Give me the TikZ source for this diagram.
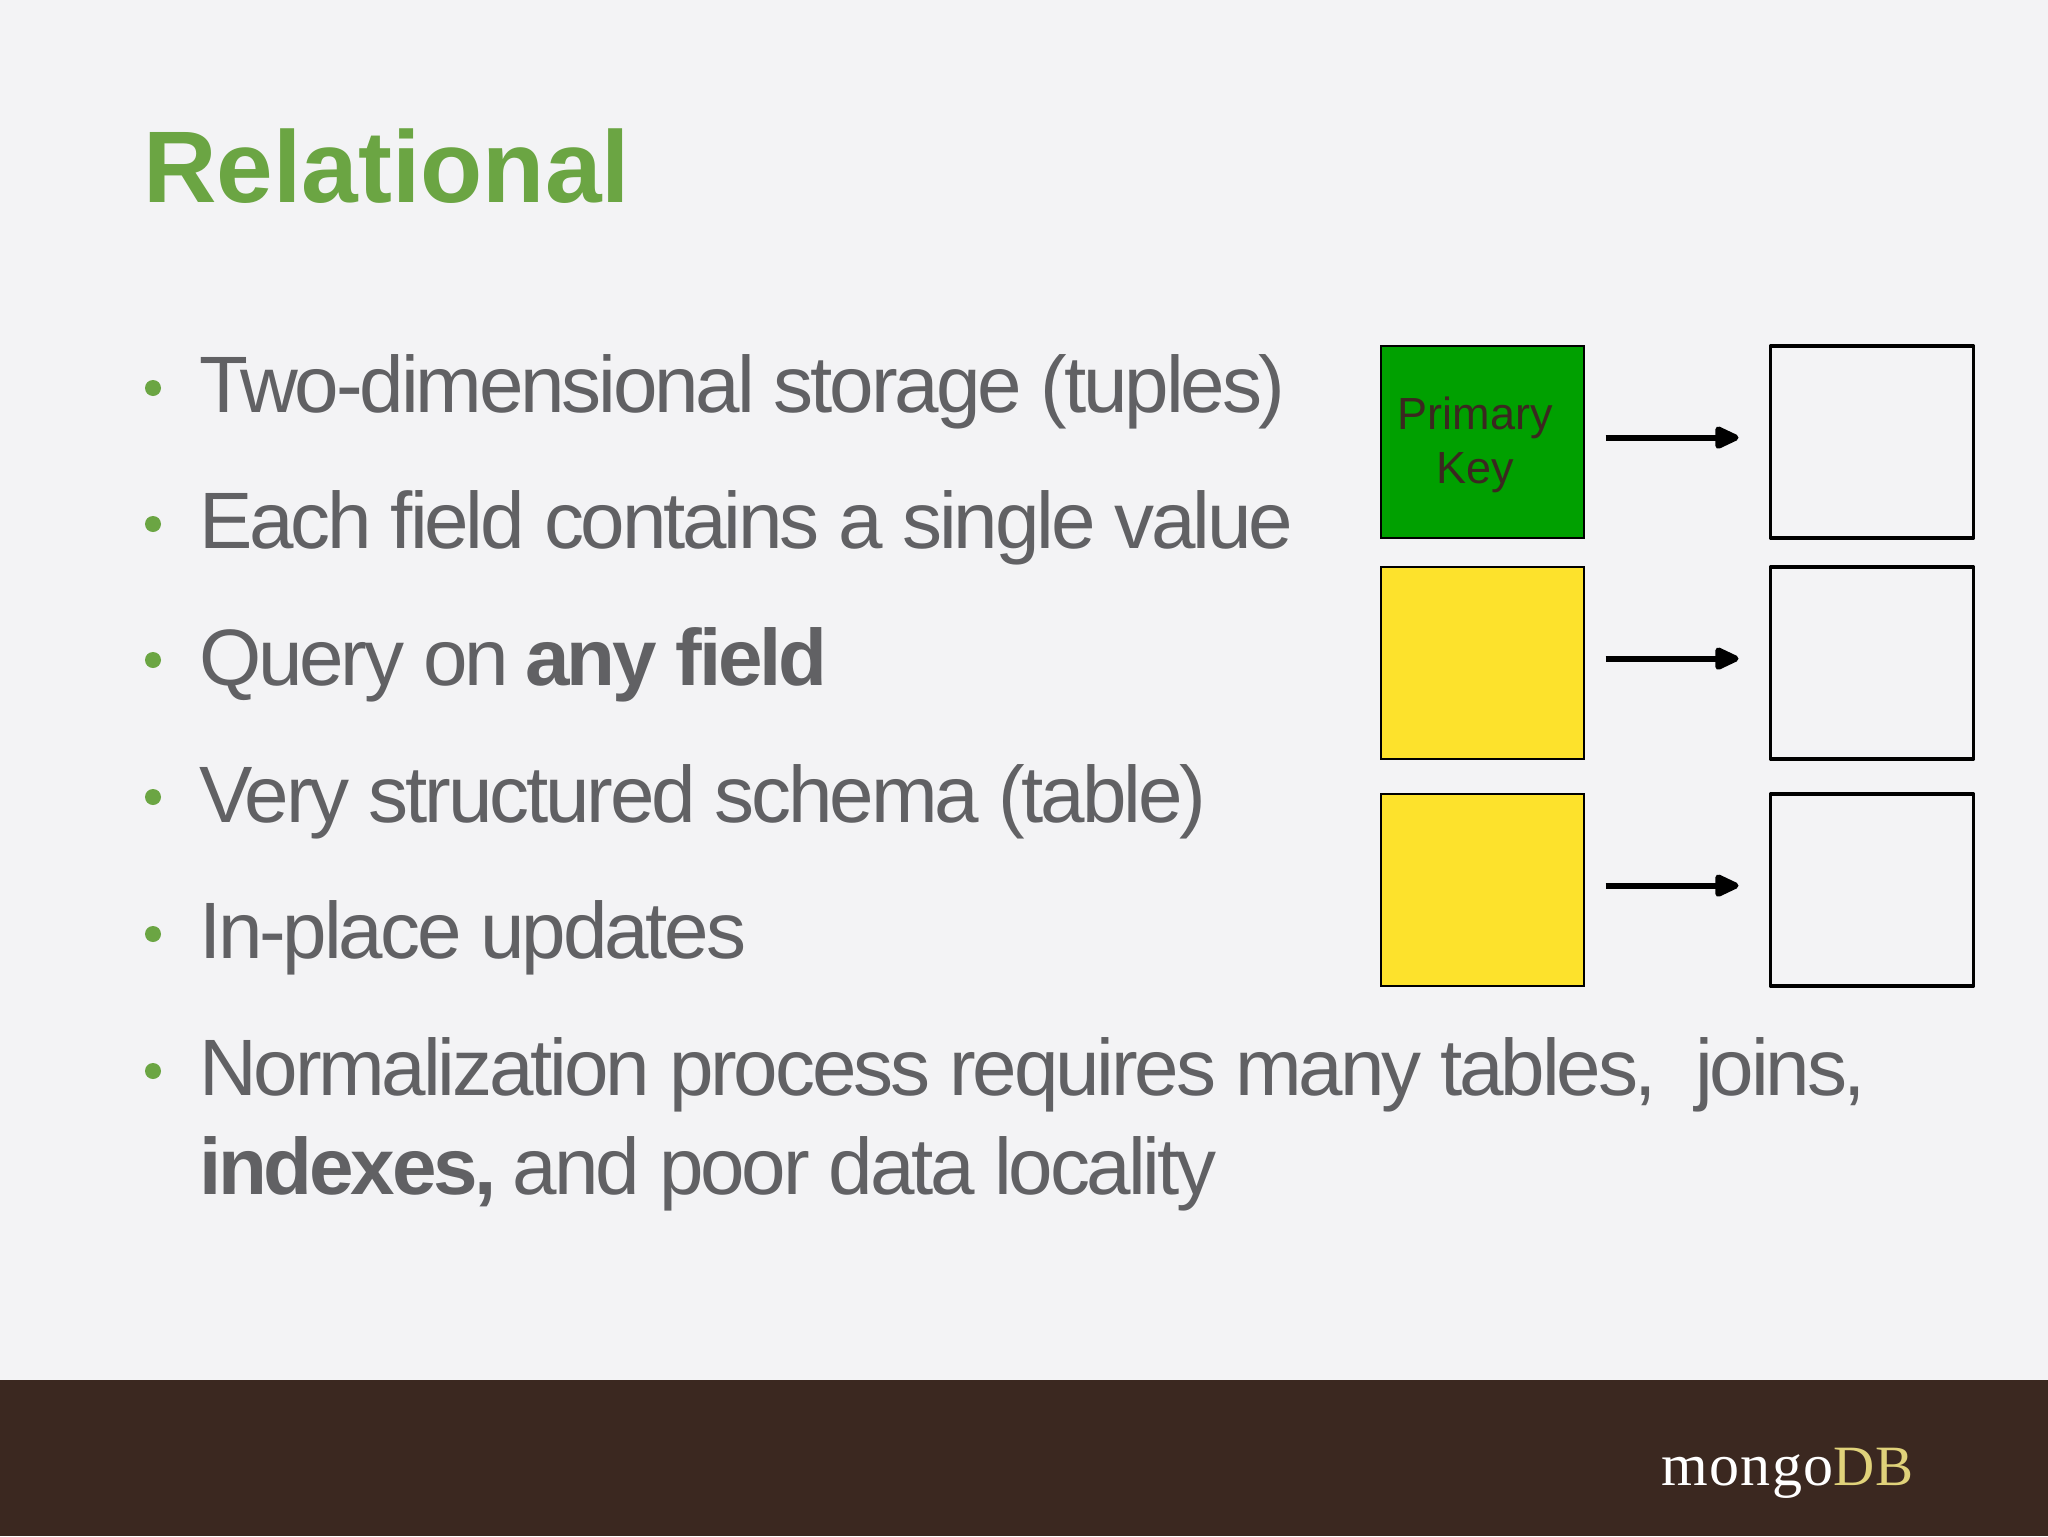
\documentclass[tikz,border=0pt]{standalone}
\usepackage{fontspec}
\setmainfont{Liberation Sans}
\newfontfamily\logofont[LetterSpace=2.2]{Liberation Serif}
\newfontfamily\tightfont[LetterSpace=-3.95]{Liberation Sans}
\usetikzlibrary{arrows.meta}
\definecolor{pagebg}{HTML}{F3F3F5}
\definecolor{footerbrown}{HTML}{3B2820}
\definecolor{titlegreen}{HTML}{6BA543}
\definecolor{bodygray}{HTML}{616164}
\definecolor{boxgreen}{HTML}{00A000}
\definecolor{boxyellow}{HTML}{FDE22C}
\definecolor{logogold}{HTML}{E0D27A}
\tikzset{
  line/.style={anchor=base west,inner sep=0pt,outer sep=0pt,text=bodygray,font=\tightfont\fontsize{40}{40}\selectfont},
  bulletdot/.style={circle,fill=titlegreen,draw=none,minimum size=8pt,inner sep=0pt},
  cell/.style={rectangle,minimum width=101.5pt,minimum height=96pt,inner sep=0pt,outer sep=0pt},
  keycell/.style={cell,draw=black,line width=1pt},
  valcell/.style={cell,draw=black,line width=1.6pt,line join=round},
  conn/.style={line width=3.1pt,-{Triangle[length=14pt,width=12pt,round]},shorten <=11pt,shorten >=16pt}
}
\begin{document}
\begin{tikzpicture}[x=0.5pt,y=-0.5pt]
\fill[pagebg] (0,0) rectangle (2048,1536);
\fill[footerbrown] (0,1380) rectangle (2048,1536);
\useasboundingbox (0,0) rectangle (2048,1536);

\node[anchor=base west,inner sep=0pt,text=titlegreen,font=\bfseries\fontsize{50.9}{50.9}\selectfont] (title) at (143,202) {Relational};

\node[line] (l1) at (199,412) {Two-dimensional storage (tuples)};
\node[line] (l2) at (199,548) {Each field contains a single value};
\node[line] (l3) at (199,685) {Query on \textbf{any field}};
\node[line] (l4) at (199,822) {Very structured schema (table)};
\node[line] (l5) at (199,958) {In-place updates};
\node[line] (l6) at (199,1095) {Normalization process requires many tables,\ \ joins,};
\node[line] (l7) at (199,1194) {\textbf{indexes,} and poor data locality};

\foreach \n/\y in {b1/388,b2/524,b3/660,b4/797,b5/934,b6/1071}
  \node[bulletdot] (\n) at (153,\y) {};

\node[keycell,fill=boxgreen] (k1) at (1482,442) {};
\node[keycell,fill=boxyellow] (k2) at (1482,663) {};
\node[keycell,fill=boxyellow] (k3) at (1482,890) {};
\node[valcell] (v1) at (1872,442) {};
\node[valcell] (v2) at (1872,663) {};
\node[valcell] (v3) at (1872,890) {};

\node[inner sep=0pt,align=center,text=footerbrown,font=\fontsize{22.5}{27}\selectfont] (pk) at (1475,445) {Primary\\Key};

\draw[conn] ([yshift=2.2pt]k1.east) -- ([yshift=2.2pt]v1.west);
\draw[conn] ([yshift=2.2pt]k2.east) -- ([yshift=2.2pt]v2.west);
\draw[conn] ([yshift=2.2pt]k3.east) -- ([yshift=2.2pt]v3.west);

\node[anchor=base west,inner sep=0pt,font=\logofont\fontsize{30}{30}\selectfont,text=white] (logo) at (1661,1485) {mongo\textcolor{logogold}{\fontsize{28.5}{30}\selectfont DB}};
\end{tikzpicture}
\end{document}
